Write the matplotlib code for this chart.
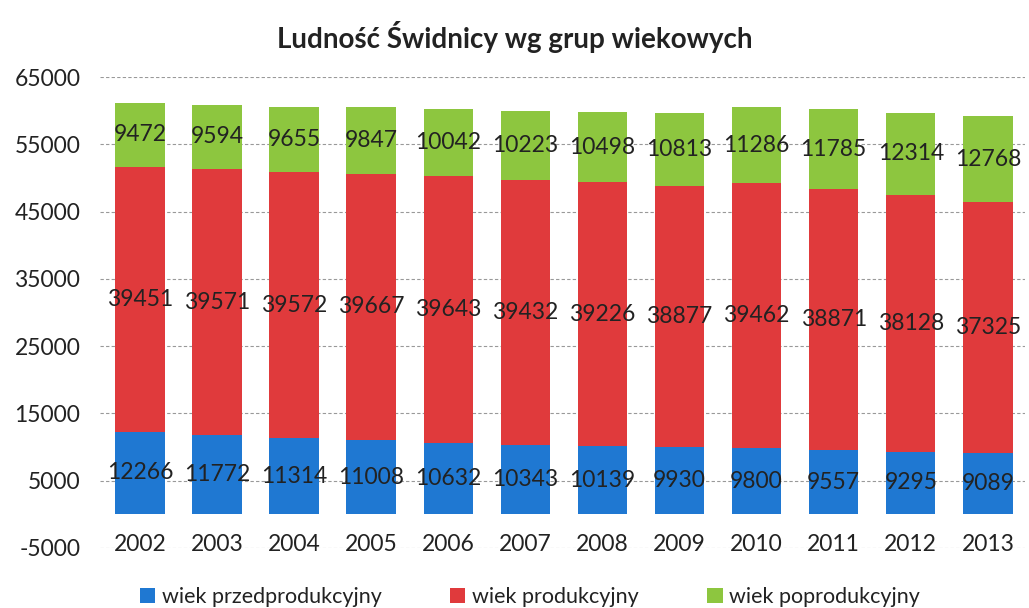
import matplotlib.pyplot as plt
import numpy as np

plt.rcParams["font.family"] = ["Lato", "DejaVu Sans"]
plt.rcParams["axes.unicode_minus"] = False

years = ["2002", "2003", "2004", "2005", "2006", "2007",
         "2008", "2009", "2010", "2011", "2012", "2013"]
przed = [12266, 11772, 11314, 11008, 10632, 10343, 10139, 9930, 9800, 9557, 9295, 9089]
prod = [39451, 39571, 39572, 39667, 39643, 39432, 39226, 38877, 39462, 38871, 38128, 37325]
poprod = [9472, 9594, 9655, 9847, 10042, 10223, 10498, 10813, 11286, 11785, 12314, 12768]

labels = ["wiek przedprodukcyjny", "wiek produkcyjny", "wiek poprodukcyjny"]
colors = ["#1f78d2", "#e03a3c", "#8dc63f"]

fig = plt.figure(figsize=(10.29, 6.08), dpi=100)
ax = fig.add_axes([0.097, 0.099, 0.899, 0.774])

x = np.arange(len(years))
bottom = np.zeros(len(years))
for vals, lab, col in zip([przed, prod, poprod], labels, colors):
    vals = np.array(vals)
    ax.bar(x, vals, 0.64, bottom=bottom, color=col, label=lab, zorder=2)
    for xi, b, v in zip(x, bottom, vals):
        ax.text(xi, b + v / 2, f"{v}", ha="center", va="center",
                fontsize=16.5, color="#222222", zorder=3)
    bottom += vals

ax.set_ylim(-5000, 65000)
ax.set_yticks(np.arange(-5000, 65001, 10000))
ax.set_xlim(-0.52, 11.48)
ax.set_xticks(x)
ax.set_xticklabels(years)
ax.tick_params(axis="both", length=0, labelsize=16.5, colors="#222222")
ax.tick_params(axis="x", pad=-10)
ax.tick_params(axis="y", pad=14)
ax.grid(True, axis="y", color="#999999", linestyle=(0, (3, 2)), linewidth=0.8, zorder=0)
for s in ax.spines.values():
    s.set_visible(False)

fig.suptitle("Ludność Świdnicy wg grup wiekowych", y=0.965,
             fontsize=20, fontweight="bold", color="#222222")

fig.legend(loc="center", bbox_to_anchor=(0.515, 0.018), ncol=3, frameon=False,
           fontsize=15.5, handlelength=0.7, handleheight=0.7, handletextpad=0.3,
           columnspacing=3.2, labelcolor="#222222")

fig.savefig("out.png", dpi=100)
